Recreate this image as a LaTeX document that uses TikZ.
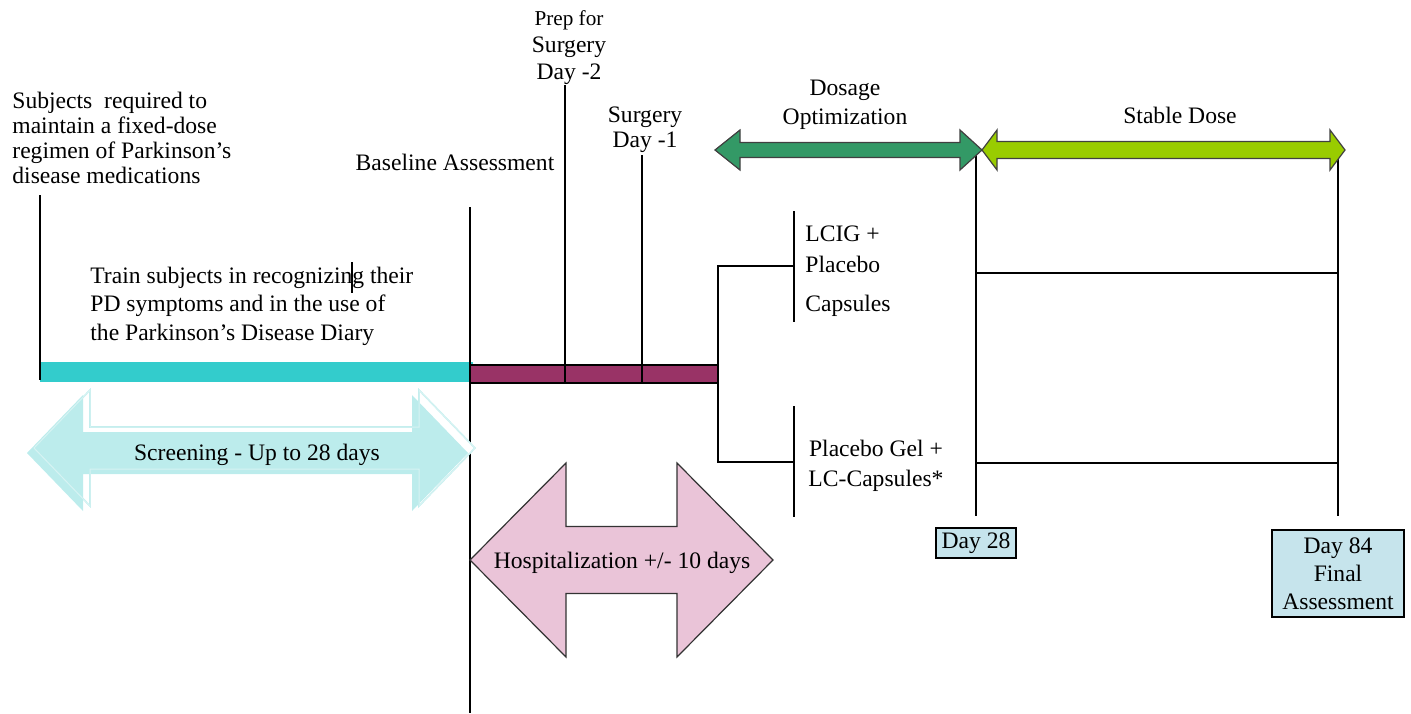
\documentclass[tikz,border=0pt]{standalone}
\usepackage{fontspec}
\setmainfont{Liberation Serif}
\definecolor{cyanbar}{HTML}{33CCCC}
\definecolor{maroonbar}{HTML}{993366}
\definecolor{scrcyan}{HTML}{BCECEC}
\definecolor{hosppink}{HTML}{EAC4D8}
\definecolor{dosegreen}{HTML}{339966}
\definecolor{stablelime}{HTML}{99CC00}
\definecolor{daybox}{HTML}{C6E4EC}
\newcommand{\dblarr}[7]{% style, x1, x2, yc, headlen, headhalf, shafthalf
  \path[#1] (#2,#4) -- (#2+#5,#4-#6) -- (#2+#5,#4-#7) -- (#3-#5,#4-#7) -- (#3-#5,#4-#6) -- (#3,#4)
   -- (#3-#5,#4+#6) -- (#3-#5,#4+#7) -- (#2+#5,#4+#7) -- (#2+#5,#4+#6) -- cycle;}
\newcommand{\dblarrb}[8]{% style, x1, x2, yc, headlen1, headlen2, headhalf, shafthalf
  \path[#1] (#2,#4) -- (#2+#5,#4-#7) -- (#2+#5,#4-#8) -- (#3-#6,#4-#8) -- (#3-#6,#4-#7) -- (#3,#4)
   -- (#3-#6,#4+#7) -- (#3-#6,#4+#8) -- (#2+#5,#4+#8) -- (#2+#5,#4+#7) -- cycle;}
\tikzset{
  txt/.style={inner sep=0pt, font=\fontsize{11.8}{12.5}\selectfont},
  tline/.style={draw=black, line width=0.6pt},
  daylabel/.style={txt, draw=black, line width=0.7pt, fill=daybox, align=center},
}
\begin{document}
\begin{tikzpicture}[x=0.5pt,y=-0.5pt]
\useasboundingbox (0,0) rectangle (1411,713);

% coordinates
\coordinate (scrTop) at (40,195);
\coordinate (scrBot) at (40,380);
\coordinate (baseTop) at (470,207);
\coordinate (baseBot) at (470,713);
\coordinate (prepTop) at (565,85);
\coordinate (prepBot) at (565,383);
\coordinate (surgTop) at (642,155);
\coordinate (surgBot) at (642,383);
\coordinate (brUp) at (718,266);
\coordinate (brLo) at (718,462);
\coordinate (armUpR) at (794,266);
\coordinate (armLoR) at (794,462);
\coordinate (gA1) at (794,211);
\coordinate (gA2) at (794,322);
\coordinate (gB1) at (794,406);
\coordinate (gB2) at (794,517);
\coordinate (d28Top) at (976,150);
\coordinate (d28Bot) at (976,516);
\coordinate (d84Top) at (1338,150);
\coordinate (d84Bot) at (1338,516);
\coordinate (hA1) at (976,273);
\coordinate (hA2) at (1338,273);
\coordinate (hB1) at (976,463);
\coordinate (hB2) at (1338,463);
\coordinate (curTop) at (352,262);
\coordinate (curBot) at (352,293);

% bars
\fill[cyanbar] (40,362) rectangle (473,382);
\filldraw[fill=maroonbar, draw=black, line width=0.6pt] (470,365) rectangle (718,383);

% vertical timeline lines
\draw[tline] (scrTop) -- (scrBot);
\draw[tline] (baseTop) -- (baseBot);
\draw[tline] (prepTop) -- (prepBot);
\draw[tline] (surgTop) -- (surgBot);
\draw[tline] (armUpR) -- (brUp) -- (brLo) -- (armLoR);
\draw[tline] (gA1) -- (gA2);
\draw[tline] (gB1) -- (gB2);
\draw[tline] (d28Top) -- (d28Bot);
\draw[tline] (d84Top) -- (d84Bot);
\draw[tline] (hA1) -- (hA2);
\draw[tline] (hB1) -- (hB2);
\draw[line width=0.7pt] (curTop) -- (curBot);

% screening arrow with shadow
\dblarr{fill=white, draw=scrcyan, line width=0.8pt}{34}{475}{448}{56}{58}{21}
\dblarr{fill=scrcyan}{27}{468}{453}{56}{58}{21}
\dblarr{draw=white, line width=0.5pt, opacity=0.4}{34}{475}{448}{56}{58}{21}

% hospitalization arrow
\dblarr{fill=hosppink, draw=black!80, line width=0.6pt}{470}{773}{560}{96}{97}{33.5}

% dosage / stable arrows
\dblarrb{fill=dosegreen, draw=black!75, line width=0.6pt}{715}{982}{150}{25}{22}{20}{7.5}
\dblarrb{fill=stablelime, draw=black!75, line width=0.6pt}{982}{1345}{150}{15}{15}{20}{8.5}

% text
\node[txt, align=left, anchor=west] (subj) at (12,138) {Subjects\ \ required to\\maintain a fixed-dose\\regimen of Parkinson's\\disease medications};
\node[txt, align=left, anchor=west, font=\fontsize{11.8}{14.3}\selectfont] (train) at (90,306) {Train subjects in recognizing their\\PD symptoms and in the use of\\the Parkinson's Disease Diary};
\node[txt] (base) at (455,162) {Baseline Assessment};
\node[txt, align=center, font=\fontsize{11.8}{13.5}\selectfont] (prep) at (569,48) {{\fontsize{10.6}{12}\selectfont Prep for}\\Surgery\\Day -2};
\node[txt, align=center] (surg) at (645,130) {Surgery\\Day -1};
\node[txt, align=center, font=\fontsize{11.8}{14.5}\selectfont] (dose) at (845,105) {Dosage\\Optimization};
\node[txt] (stable) at (1180,115) {Stable Dose};
\node[txt, align=left, anchor=west, font=\fontsize{11.8}{15.5}\selectfont] (lcig) at (805,271) {LCIG +\\Placebo\\[4pt]Capsules};
\node[txt, align=center, font=\fontsize{11.8}{15}\selectfont] (plac) at (876,466) {Placebo Gel +\\LC-Capsules*};
\node[txt] (scr) at (257,455) {Screening - Up to 28 days};
\node[txt] (hosp) at (622,563) {Hospitalization +/- 10 days};
\node[daylabel, minimum width=40pt, minimum height=15pt] (d28) at (976,543) {\raisebox{-1pt}{Day 28}};
\node[daylabel, minimum width=66pt, minimum height=43.5pt, font=\fontsize{11.8}{14}\selectfont] (d84) at (1338,573.5) {Day 84\\Final\\Assessment};
\end{tikzpicture}
\end{document}
